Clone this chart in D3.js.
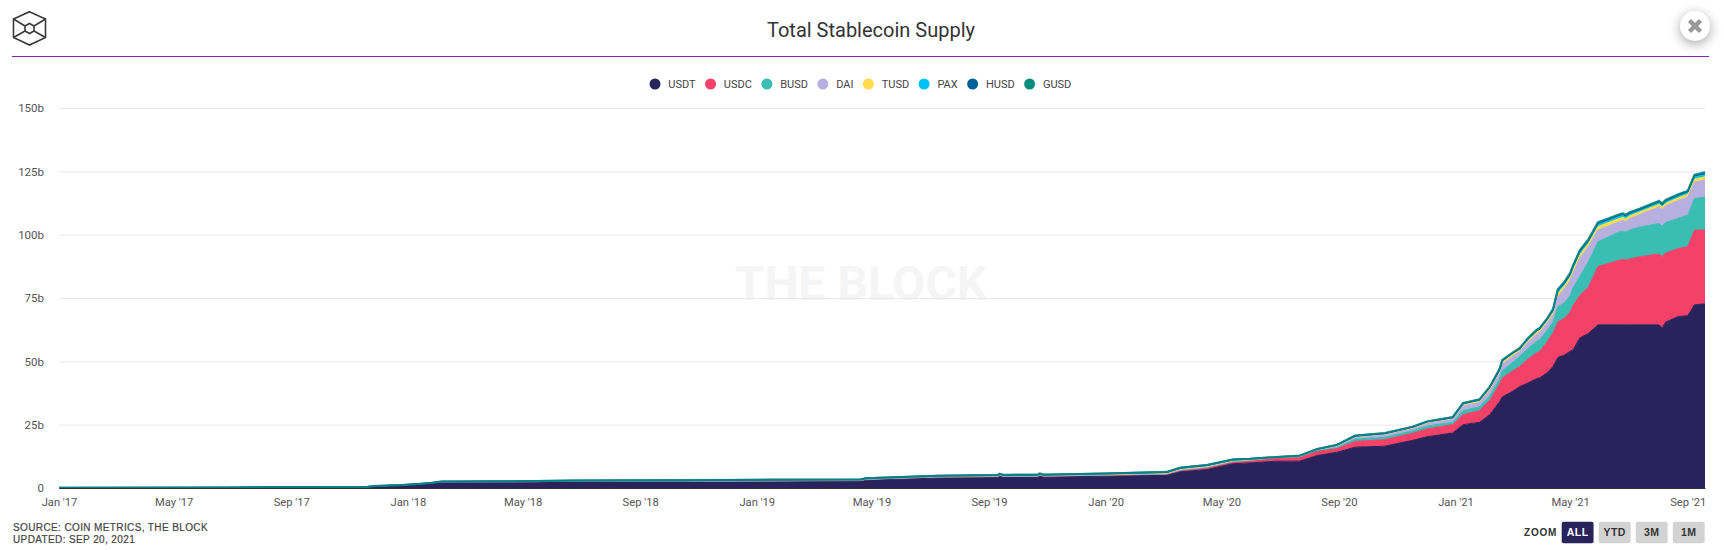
<!DOCTYPE html>
<html>
<head>
<meta charset="utf-8">
<title>Total Stablecoin Supply</title>
<script src="https://cdn.jsdelivr.net/npm/d3@7"></script>
<style>
  html, body { margin: 0; background: #fff; }
  svg { display: block; font-family: Roboto, sans-serif; }
</style>
</head>
<body>
<div id="chart"></div>
<script>
// Total stablecoin supply, values in billions

const dates = ["2017-01-01","2017-06-26","2017-08-15","2017-11-20","2017-11-28","2017-12-26","2018-01-08","2018-01-25","2018-02-05",
  "2018-04-10","2018-05-16","2018-06-24","2018-10-20","2018-10-24","2019-01-15","2019-04-20","2019-04-25","2019-07-09",
  "2019-09-10","2019-09-12","2019-09-16","2019-10-22","2019-10-24","2019-10-28","2020-01-01","2020-03-05","2020-03-19",
  "2020-04-16","2020-05-13","2020-05-31","2020-06-28","2020-07-22","2020-08-09","2020-08-30","2020-09-18","2020-10-19",
  "2020-11-17","2020-12-02","2020-12-29",
  "2021-01-09","2021-01-26","2021-02-06","2021-02-16","2021-02-19","2021-03-01","2021-03-09","2021-03-18","2021-03-27","2021-03-30",
  "2021-04-07","2021-04-13","2021-04-18","2021-04-25","2021-05-01","2021-05-04","2021-05-11","2021-05-20","2021-05-30","2021-06-22",
  "2021-06-25","2021-06-28","2021-07-02","2021-07-13","2021-08-02","2021-08-05","2021-08-09","2021-08-22","2021-09-01","2021-09-08","2021-09-19"];

const usdt = [.1,.15,.35,.5,.8,1.2,1.5,2,2.4,
  2.45,2.5,2.65,2.65,2.5,2.5,2.65,3.1,3.9,
  4.1,4.6,4.15,4.2,4.7,4.25,4.65,5,6.4,
  7.3,9.6,9.9,10.6,10.6,12.8,14.1,16.1,16.5,
  18.8,20.2,21.7,
  25,25.9,29,34,36,38,40,41.5,43.2,43.5,
  45.5,48,51.5,52.5,54,54.5,59.2,61,64.4,64.4,
  64.4,64.4,64.4,64.4,64.4,63.2,65.5,67.7,68,72.3,72.7];
const usdc = [0,0,0,0,0,0,0,0,0,
  0,0,0,.1,.2,.3,.3,.3,.45,
  .45,.45,.45,.45,.45,.45,.45,.5,.6,
  .8,.75,.9,1.3,1.5,1.7,1.5,2.3,2.6,
  2.8,3.1,3.3,
  4,4.6,5.7,7,7.5,8,8,9.5,10.2,10.4,
  12.3,13.2,14,14.5,15.5,17.5,16.8,18.3,23,25.6,
  25.8,25.6,26,26.9,28,28.2,27.3,26.8,27.3,29.5,29.1];
const busd = [0,0,0,0,0,0,0,0,0,
  0,0,0,0,0,0,0,0,.01,
  .02,.02,.02,.02,.02,.02,.02,.06,.06,
  .07,.08,.1,.12,.2,.3,.4,.9,.9,
  1,1.1,1,
  1.6,1.5,1.8,2,2.8,3.3,3.9,4.2,4.5,4.6,
  4.5,4.2,6,6.2,6.5,7,7.4,10,9.8,11.2,
  11.2,11,11.4,11.7,12,12,12,12,12.4,12.5,13];
const dai = [0,0,0,0,0,0,0,0,.03,
  .05,.05,.06,.07,.07,.08,.09,.09,.08,
  .08,.08,.08,.08,.08,.08,.06,.1,.1,
  .1,.1,.12,.12,.2,.25,.4,.7,1,
  .9,1.1,1.2,
  1.8,1.8,2.1,2.5,2.7,2.4,2,2.4,2.8,2.8,
  2.9,2.8,4,5.5,6,5.8,7.3,6,4.6,4,
  4.3,4.1,4.5,5,6.6,6.6,6.6,7,7.2,6.5,6.7];
const tusd = [0,0,0,0,0,0,0,0,.1,
  .15,.2,.2,.18,.2,.2,.2,.2,.2,
  .25,.25,.25,.25,.25,.25,.25,.25,.3,
  .3,.25,.2,.05,.12,.12,.3,.3,.3,
  .3,.35,.35,
  .5,.5,.6,.6,.65,.7,.6,.75,.8,.85,
  .8,1.1,1.3,1.2,1.3,1.4,1.4,1.2,1.4,1.3,
  1.2,1.2,1.1,1,1,1,1,1.05,1.05,1.2,1.35];
const pax = [0,0,0,0,0,0,0,0,0,
  0,0,.05,.1,.12,.15,.15,.15,.2,
  .2,.2,.2,.2,.2,.2,.25,.25,.25,
  .25,.25,.2,.04,.1,.12,.2,.2,.2,
  .2,.22,.22,
  .35,.35,.45,.45,.5,.5,.4,.5,.55,.55,
  .55,.75,.9,.85,.9,.95,.95,.9,.95,.9,
  .85,.85,.8,.75,.75,.75,.75,.8,.8,.9,.95];
const husd = [0,0,0,0,0,0,0,0,0,
  0,0,0,0,0,0,0,0,0,
  .02,.02,.02,.02,.02,.02,.05,.2,.25,
  .25,.2,.1,.01,.06,.07,.12,.12,.12,
  .12,.13,.13,
  .22,.22,.3,.3,.3,.3,.2,.3,.3,.3,
  .3,.4,.5,.45,.5,.5,.5,.5,.55,.5,
  .45,.45,.4,.4,.4,.4,.4,.4,.4,.5,.55];
const gusd = [0,0,0,0,0,0,0,0,0,
  0,0,0,.02,.05,.08,.05,.05,.02,
  .02,.02,.02,.02,.02,.02,.01,.01,.02,
  .02,.02,.01,.01,.02,.04,.08,.08,.08,
  .08,.1,.1,
  .13,.13,.15,.15,.15,.1,.1,.15,.15,.2,
  .15,.25,.3,.3,.3,.35,.35,.3,.3,.3,
  .3,.3,.25,.25,.25,.25,.25,.25,.25,.3,.35];

const seriesNames = ["USDT","USDC","BUSD","DAI","TUSD","PAX","HUSD","GUSD"];
const seriesValues = [usdt,usdc,busd,dai,tusd,pax,husd,gusd];
const seriesColors = ["#2a235b","#f44168","#3abdb2","#b7afdf","#ffdc4e","#00c2f5","#00609a","#0a8c7c"];

const yTicks = [0,25,50,75,100,125,150];
const xTickDates = ["2017-01-01","2017-05-01","2017-09-01","2018-01-01","2018-05-01","2018-09-01","2019-01-01","2019-05-01",
  "2019-09-01","2020-01-01","2020-05-01","2020-09-01","2021-01-01","2021-05-01","2021-09-01"];
const zoomLabels = ["ALL","YTD","3M","1M"];

const width = 1724, height = 550,
      margin = ({top: 108, right: 19, bottom: 62, left: 59});

const parseDate = d3.utcParse("%Y-%m-%d");

let table = dates.map((d, i) => {
    let row = {date: parseDate(d)};
    seriesNames.forEach((n, j) => row[n] = seriesValues[j][i]);
    return row;
});

let svg = d3.select("#chart")
    .append("svg")
    .attr("width", width)
    .attr("height", height)
    .attr("viewBox", [0, 0, width, height]);

let x = d3.scaleUtc()
    .domain([parseDate("2017-01-01"), parseDate("2021-09-19")])
    .range([margin.left, width - margin.right]);

let y = d3.scaleLinear()
    .domain([0, 150])
    .range([height - margin.bottom, margin.top]);

// header
svg.append("text")
    .attr("x", 871).attr("y", 37)
    .attr("text-anchor", "middle")
    .attr("font-size", 20)
    .attr("fill", "#333")
    .text("Total Stablecoin Supply");

svg.append("line")
    .attr("x1", 12).attr("x2", 1709)
    .attr("y1", 56.5).attr("y2", 56.5)
    .attr("stroke", "#8a1fb8");

// logo
let logo = svg.append("g")
    .attr("fill", "none").attr("stroke", "#3a3a3a").attr("stroke-width", 1.6);
logo.append("path").attr("d", "M29.5 11.7L45.5 19V37.5L29.5 45L13.5 37.5V19Z");
logo.append("path").attr("d", "M29.5 23.5L34 26V31L29.5 33.5L25 31V26Z");
logo.append("path").attr("d", "M13.5 19L25 26M45.5 19L34 26M13.5 37.5L25 31M45.5 37.5L34 31");

// close button
svg.append("circle")
    .attr("cx", 1695).attr("cy", 26).attr("r", 15)
    .attr("fill", "#fff")
    .style("filter", "drop-shadow(0 3px 6px rgba(0,0,0,.35))");
svg.append("path")
    .attr("d", "M1689.5 20.5L1700.5 31.5M1700.5 20.5L1689.5 31.5")
    .attr("stroke", "#999").attr("stroke-width", 4.5);

// watermark
svg.append("text")
    .attr("x", 861).attr("y", 300)
    .attr("text-anchor", "middle")
    .attr("font-size", 48)
    .attr("font-weight", 700)
    .attr("fill", "#f5f5f5")
    .text("THE BLOCK");

// legend
let cursor = 655;
seriesNames.forEach((n, i) => {
    svg.append("circle")
        .attr("cx", cursor).attr("cy", 84).attr("r", 5.5)
        .attr("fill", seriesColors[i]);
    let label = svg.append("text")
        .attr("x", cursor + 13.3).attr("y", 88)
        .attr("font-size", 11)
        .attr("fill", "#444")
        .text(n);
    cursor += 13.3 + label.node().getComputedTextLength() + 14.95;
});

// axes
const yAxis = g => g
    .attr("transform", `translate(${margin.left},0)`)
    .call(d3.axisLeft(y).tickValues(yTicks)
        .tickSize(-(width - margin.left - margin.right))
        .tickPadding(15)
        .tickFormat(d => d === 0 ? "0" : d + "b"))
    .call(g => g.select(".domain").remove())
    .call(g => g.selectAll(".tick line").attr("stroke", "#e8e8e8"))
    .call(g => g.selectAll(".tick text").attr("font-size", 11.5).attr("fill", "#555").attr("font-family", "Roboto, sans-serif"));

const xAxis = g => g
    .attr("transform", `translate(0,${height - margin.bottom})`)
    .call(d3.axisBottom(x).tickValues(xTickDates.map(parseDate))
        .tickSize(0)
        .tickPadding(10)
        .tickFormat(d3.utcFormat("%b '%y")))
    .call(g => g.select(".domain").attr("stroke", "#333"))
    .call(g => g.selectAll(".tick text").attr("font-size", 11.2).attr("fill", "#555").attr("font-family", "Roboto, sans-serif"));

svg.append("g").call(yAxis);

// stacked areas
let stacked = d3.stack().keys(seriesNames)(table);

let area = d3.area()
    .x(d => x(d.data.date))
    .y0(d => y(d[0]))
    .y1(d => y(d[1]));

let topLine = d3.line()
    .x(d => x(d.data.date))
    .y(d => y(d[1]));

svg.append("g").selectAll("path")
    .data(stacked)
    .join("path")
    .attr("fill", (d, i) => seriesColors[i])
    .attr("d", area);

svg.append("g").selectAll("path")
    .data(stacked)
    .join("path")
    .attr("fill", "none")
    .attr("stroke", (d, i) => seriesColors[i])
    .attr("stroke-width", (d, i) => i >= 6 ? 2 : 1)
    .attr("stroke-opacity", (d, i) => i === 7 ? .75 : 1)
    .attr("d", topLine);

svg.append("g").call(xAxis);

// footer
let footer = svg.append("g")
    .attr("font-family", "'Liberation Sans', sans-serif")
    .attr("font-size", 10)
    .attr("letter-spacing", .38)
    .attr("fill", "#444")
    .attr("stroke", "#444")
    .attr("stroke-width", .2);
footer.append("text").attr("x", 13).attr("y", 531).text("SOURCE: COIN METRICS, THE BLOCK");
footer.append("text").attr("x", 13).attr("y", 542.5).text("UPDATED: SEP 20, 2021");

// zoom buttons
svg.append("text")
    .attr("x", 1524).attr("y", 536)
    .attr("font-family", "'Liberation Sans', sans-serif")
    .attr("font-size", 10)
    .attr("font-weight", 700)
    .attr("letter-spacing", .8)
    .attr("fill", "#333")
    .text("ZOOM");

let zoomX = d3.scaleBand().domain(zoomLabels).range([1561.7, 1704.7]).paddingInner(.14);

let btn = svg.append("g").selectAll("g")
    .data(zoomLabels)
    .join("g")
    .attr("transform", d => `translate(${zoomX(d)},521.7)`);

btn.append("rect")
    .attr("width", zoomX.bandwidth())
    .attr("height", 21.6)
    .attr("rx", 2)
    .attr("fill", (d, i) => i === 0 ? "#2a235b" : "#d3d3d3");

btn.append("text")
    .attr("x", zoomX.bandwidth() / 2)
    .attr("y", 14.5)
    .attr("text-anchor", "middle")
    .attr("font-family", "'Liberation Sans', sans-serif")
    .attr("font-size", 10.5)
    .attr("font-weight", 700)
    .attr("letter-spacing", .5)
    .attr("fill", (d, i) => i === 0 ? "#fff" : "#333")
    .text(d => d);
</script>
</body>
</html>
